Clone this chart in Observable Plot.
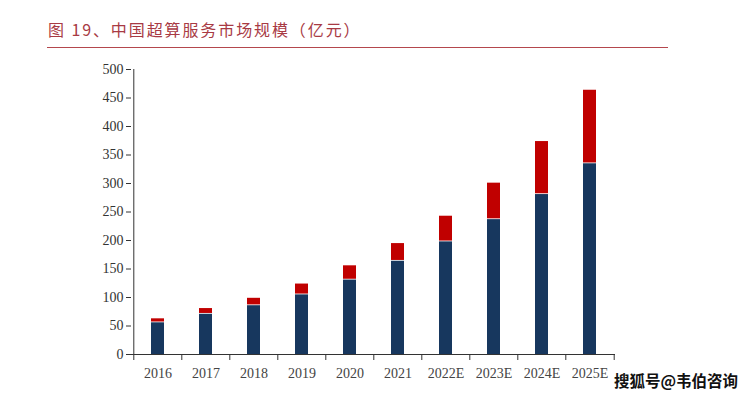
<!DOCTYPE html>
<html><head><meta charset="utf-8">
<script src="https://cdn.jsdelivr.net/npm/d3@7"></script>
<script src="https://cdn.jsdelivr.net/npm/@observablehq/plot@0.6"></script>
<style>
body{margin:0;background:#fff;width:745px;height:397px;overflow:hidden;position:relative;}
#title{position:absolute;left:48px;top:17px;font-family:"Noto Sans CJK SC";font-size:16px;color:#a83a44;letter-spacing:1.9px;}
#rule{position:absolute;left:47px;top:47px;width:621px;height:1px;background:#b4474d;}
#chart{position:absolute;left:0;top:55px;}
#wm{position:absolute;left:614px;top:369px;font-family:"Noto Sans CJK SC";font-weight:bold;font-size:15.5px;color:#111;text-shadow:-1px -1px 0 #fff,1px -1px 0 #fff,-1px 1px 0 #fff,1px 1px 0 #fff,0 0 2px #fff;white-space:nowrap;}
</style></head>
<body>
<div id="title">图 19、中国超算服务市场规模（亿元）</div>
<div id="rule"></div>
<div id="chart"></div>
<div id="wm">搜狐号@韦伯咨询</div>
<script>
const years = ["2016","2017","2018","2019","2020","2021","2022E","2023E","2024E","2025E"];
const baseValues = [57,72,87,106,132,165,199,238,282,336];
const addValues = [7,10,13,19,25,31,45,64,93,129];
const yTicks = [0,50,100,150,200,250,300,350,400,450,500];

const rows = [];
years.forEach((y,i)=>{
  rows.push({year:y, part:"base", v:baseValues[i]});
  rows.push({year:y, part:"add", v:addValues[i]});
});

const W = 745, ml = 131, mr = 130;
const step = (W - ml - mr) / years.length;
const axisColor = "#333";

const chart = Plot.plot({
  width: W, height: 342,
  marginLeft: ml, marginRight: mr, marginTop: 14, marginBottom: 43,
  style: {fontFamily: "Liberation Serif", fontSize: "14px", color: "#333", background: "transparent"},
  x: {domain: years, paddingInner: 0.73, paddingOuter: 0.365, label: null},
  y: {domain: [0,500], label: null},
  color: {domain: ["base","add"], range: ["#17375e","#c00000"]},
  marks: [
    Plot.barY(rows, Plot.stackY({x:"year", y:"v", fill:"part", order: ["base","add"], insetTop: 0.8})),
    Plot.ruleY([0], {stroke: axisColor}),
    Plot.ruleX([years[0]], {dx: -step/2, y1: 0, y2: 500, stroke: axisColor}),
    Plot.axisY({ticks: yTicks, tickSize: 5, tickPadding: 3, stroke: axisColor, fill: "#333"}),
    Plot.axisX({ticks: years, tickSize: 6, tickFormat: () => "", dx: -step/2, stroke: axisColor}),
    Plot.axisX({ticks: [years[years.length-1]], tickSize: 6, tickFormat: () => "", dx: step/2, stroke: axisColor}),
    Plot.axisX({ticks: years, tickSize: 0, tickPadding: 14, fill: "#444"})
  ]
});
document.getElementById("chart").appendChild(chart);
</script>
</body></html>
